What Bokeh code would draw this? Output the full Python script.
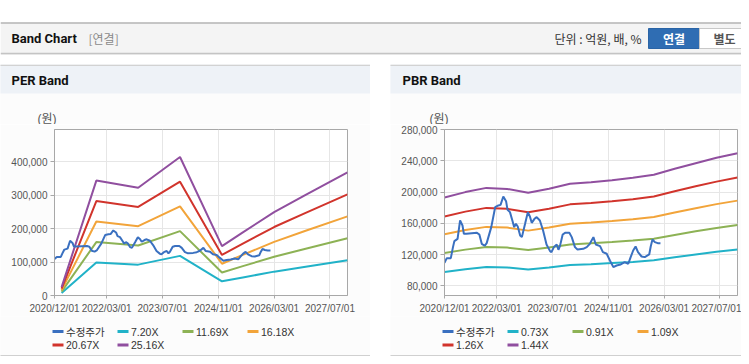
import numpy as np
from bokeh.plotting import figure
from bokeh.layouts import column, row
from bokeh.models import Range1d, FixedTicker, Spacer, NumeralTickFormatter
from bokeh.core.properties import value
from bokeh.embed import file_html
from bokeh.resources import INLINE

# ---------------- data ----------------
price_dates = [
    "2020-12-01", "2020-12-21", "2021-01-25", "2021-02-13", "2021-02-25", "2021-03-25", "2021-04-16",
    "2021-05-07", "2021-05-19", "2021-06-10", "2021-09-10", "2021-10-01", "2021-10-22", "2021-11-16",
    "2021-12-04", "2022-01-13", "2022-02-16", "2022-03-16", "2022-04-04", "2022-04-28", "2022-05-22",
    "2022-06-04", "2022-06-25", "2022-07-16", "2022-08-01", "2022-08-16", "2022-09-01", "2022-09-22",
    "2022-10-07", "2022-11-04", "2022-11-28", "2022-12-16", "2023-01-01", "2023-01-25", "2023-02-13",
    "2023-03-13", "2023-04-10", "2023-05-10", "2023-06-10", "2023-06-22", "2023-07-13", "2023-08-07",
    "2023-08-22", "2023-09-04", "2023-09-28", "2023-10-19", "2023-11-25", "2023-12-16", "2024-01-13",
    "2024-02-04", "2024-03-25", "2024-04-25", "2024-05-22", "2024-06-22", "2024-07-13", "2024-08-19",
    "2024-09-13", "2024-10-16", "2024-11-13", "2024-12-13", "2025-01-10", "2025-02-15", "2025-03-22",
    "2025-04-22", "2025-05-13", "2025-06-04", "2025-06-25", "2025-07-16", "2025-08-16", "2025-09-13",
    "2025-10-22", "2025-11-04", "2025-11-19", "2025-12-10", "2026-01-04", "2026-01-28"]
price_values = [
    109400, 115400, 115400, 129500, 137200, 140100, 163600, 157200, 146500, 146500, 147800, 145700,
    133700, 131200, 134600, 155100, 180600, 182800, 183600, 194300, 188300, 177200, 174300, 163600,
    155100, 159300, 155900, 144400, 142300, 159300, 174300, 168700, 160600, 165700, 167900, 163600,
    150800, 132900, 124400, 123100, 129500, 132900, 126100, 130800, 145700, 147800, 147800, 142300,
    129500, 126500, 127300, 129500, 133700, 142300, 132900, 130800, 123100, 121000, 112400, 103900,
    106000, 107300, 110300, 108200, 116700, 125200, 130300, 123100, 117500, 116700, 120100, 130300,
    139300, 135900, 134600, 134600]

per_dates = ["2021-02-01", "2021-12-01", "2022-12-01", "2023-12-01", "2024-12-01",
             "2025-06-01", "2026-03-01", "2026-12-01", "2027-12-01"]
per_720 = [7200, 98300, 92200, 118400, 42300, 54000, 71300, 86000, 105300]
per_1169 = [11700, 159600, 149600, 192300, 68600, 87700, 115700, 139700, 170900]
per_1618 = [16200, 220900, 207100, 266200, 95000, 121400, 160200, 193400, 236500]
per_2067 = [20700, 282100, 264600, 340000, 121300, 155000, 204600, 247000, 302200]
per_2516 = [25200, 343400, 322000, 413900, 147700, 188700, 249100, 300700, 367800]

pbr_dates = ["2020-12-01", "2021-06-01", "2021-12-01", "2022-06-01", "2022-12-01", "2023-06-01",
             "2023-12-01", "2024-06-01", "2024-12-01", "2025-06-01", "2025-12-01", "2026-06-01",
             "2026-12-01", "2027-06-01", "2027-12-01"]
pbr_073 = [97800, 101300, 104100, 103400, 100900, 103500, 106700, 107700, 109100, 110600, 112600,
           116400, 120100, 123600, 126600]
pbr_091 = [121900, 126300, 129800, 128900, 125800, 129000, 133000, 134300, 136000, 137900, 140300,
           145100, 149700, 154100, 157800]
pbr_109 = [146100, 151300, 155400, 154500, 150600, 154600, 159400, 160900, 162800, 165100, 168100,
           173900, 179300, 184500, 189000]
pbr_126 = [168800, 174900, 179700, 178500, 174100, 178700, 184200, 186000, 188200, 190900, 194300,
           201000, 207300, 213300, 218500]
pbr_144 = [193000, 199900, 205300, 204000, 199000, 204200, 210500, 212500, 215100, 218200, 222000,
           229700, 236900, 243800, 249700]

per_labels = ["수정주가", "7.20X", "11.69X", "16.18X", "20.67X", "25.16X"]
pbr_labels = ["수정주가", "0.73X", "0.91X", "1.09X", "1.26X", "1.44X"]
series_colors = ["#3a70c0", "#21b2c8", "#8db255", "#f2a43a", "#d1342c", "#904f9f"]

x_tick_dates = ["2020-12-01", "2022-03-01", "2023-07-01", "2024-11-01", "2026-03-01", "2027-07-01"]
x_tick_labels = ["2020/12/01", "2022/03/01", "2023/07/01", "2024/11/01", "2026/03/01", "2027/07/01"]
x_start, x_end = "2020-12-01", "2027-12-01"

per_y_ticks = [0, 100000, 200000, 300000, 400000]
per_y_range = (0, 496000)
pbr_y_ticks = [80000, 120000, 160000, 200000, 240000, 280000]
pbr_y_range = (67600, 280000)


def ms(d):
    return np.array(d, dtype="datetime64[ms]").astype("int64")


def ms1(d):
    return int(np.datetime64(d, "ms").astype("int64"))


TICK_FONT = "'Liberation Sans', 'Noto Sans CJK KR', sans-serif"
KR_FONT = "'Noto Sans CJK KR', sans-serif"
PANEL_BG = "#fcfcfc"
W = 741  # visible width


def deco(width, height, x0, x1, y0, y1, bg="white"):
    p = figure(width=width, height=height, output_backend="svg", toolbar_location=None,
               x_range=Range1d(x0, x1), y_range=Range1d(y1, y0),
               x_axis_type=None, y_axis_type=None,
               min_border=0, min_border_left=0, min_border_right=0, min_border_top=0, min_border_bottom=0,
               background_fill_color=bg, border_fill_color=bg, outline_line_color=None)
    p.grid.visible = False
    return p


def txt(p, x, y, s, size="12px", color="#333", font=KR_FONT, bold=False, align="left"):
    p.text(x=[x], y=[y], text=[s], text_font=value(font), text_font_size=size,
           text_font_style="bold" if bold else "normal", text_color=color,
           text_align=align, text_baseline="middle")


# ---------------- header ----------------
hdr = deco(W, 64, 0, W, 0, 64)
hdr.quad(left=0, right=W, top=22, bottom=52.5, fill_color="#f4f4f4", line_color=None)
hdr.segment(x0=0, y0=22.5, x1=W, y1=22.5, line_color="#b4b4b4", line_width=1.5)
hdr.segment(x0=0, y0=52.8, x1=W, y1=52.8, line_color="#c4c4c4", line_width=1.2)
hdr.segment(x0=0, y0=54, x1=W, y1=54, line_color="#e6e6e6", line_width=1.2)
txt(hdr, 11, 37.5, "Band Chart", size="13px", color="#111", font="Roboto", bold=True)
txt(hdr, 88, 38, "[연결]", size="12px", color="#8a8a8a")
txt(hdr, 641, 38, "단위 : 억원, 배, %", size="12px", color="#333", align="right")
hdr.quad(left=648, right=699, top=28, bottom=48, fill_color="#2f6db3", line_color="#2a64a6")
hdr.quad(left=699, right=W + 10, top=28, bottom=48, fill_color="white", line_color="#c8c8c8")
txt(hdr, 673.5, 38, "연결", size="12px", color="white", bold=True, align="center")
txt(hdr, 724, 38, "별도", size="12px", color="#555", bold=True, align="center")


# ---------------- panel tops ----------------
def panel_top(x0, x1, title, title_x, unit_x):
    p = deco(x1 - x0, 60, x0, x1, 64, 124, bg=PANEL_BG)
    p.quad(left=x0 - 10, right=x1 + 10, top=64, bottom=93, fill_color="#eef2f7", line_color=None)
    p.segment(x0=x0 - 10, y0=64.7, x1=x1 + 10, y1=64.7, line_color="#d2d2d2", line_width=1.5)
    txt(p, title_x, 80, title, size="13px", color="#111", font="Roboto", bold=True)
    txt(p, unit_x, 118, "(원)", size="12px", color="#555", font=TICK_FONT)
    return p


ltop = panel_top(0, 370, "PER Band", 11, 37)
rtop = panel_top(390, W, "PBR Band", 402, 429)


# ---------------- charts ----------------
def chart(width, mb_left, mb_right, mb_top, yr, yticks, bands, dates_b):
    p = figure(width=width, height=192, output_backend="svg", toolbar_location=None,
               x_range=Range1d(ms1(x_start), ms1(x_end)), y_range=Range1d(*yr),
               min_border_left=mb_left, min_border_right=mb_right, min_border_top=mb_top,
               min_border_bottom=21, background_fill_color="white", border_fill_color=PANEL_BG,
               outline_line_color="#a8a8a8")
    xt = [int(v) for v in ms(x_tick_dates)]
    p.xaxis.ticker = FixedTicker(ticks=xt)
    p.xaxis.major_label_overrides = {t: lab for t, lab in zip(xt, x_tick_labels)}
    p.yaxis.ticker = FixedTicker(ticks=yticks)
    p.yaxis.formatter = NumeralTickFormatter(format="0,0")
    for ax in (p.xaxis, p.yaxis):
        ax.axis_line_color = "#a8a8a8"
        ax.major_tick_line_color = "#a8a8a8"
        ax.minor_tick_line_color = None
        ax.major_tick_in = 0
        ax.major_label_text_font = TICK_FONT
        ax.major_label_text_font_size = "10px"
        ax.major_label_text_color = "#555"
    p.xaxis.major_tick_out = 3
    p.xaxis.major_label_standoff = 4
    p.yaxis.major_tick_out = 4
    p.yaxis.major_label_standoff = 3
    p.xgrid.grid_line_color = "#e6e6e6"
    p.ygrid.grid_line_color = "#e6e6e6"
    bx = ms(dates_b)
    for vals, col in zip(bands, series_colors[1:]):
        p.line(bx, vals, line_color=col, line_width=2)
    p.line(ms(price_dates), price_values, line_color=series_colors[0], line_width=2)
    return p


lchart = chart(370, 54, 23, 4, per_y_range, per_y_ticks,
               [per_720, per_1169, per_1618, per_2067, per_2516], per_dates)
rchart = chart(W - 390, 54, 4, 5, pbr_y_range, pbr_y_ticks,
               [pbr_073, pbr_091, pbr_109, pbr_126, pbr_144], pbr_dates)


# ---------------- legends ----------------
def legend(x0, x1, lx, labels):
    p = deco(x1 - x0, 40, x0, x1, 316, 356, bg=PANEL_BG)
    p.segment(x0=x0 - 10, y0=355.2, x1=x1 + 10, y1=355.2, line_color="#d0d0d0", line_width=1.6)
    for i, (lab, col) in enumerate(zip(labels, series_colors)):
        r, c = divmod(i, 4)
        sx = lx + 65 * c
        sy = 331 + 13.5 * r
        p.segment(x0=sx, y0=sy, x1=sx + 11, y1=sy, line_color=col, line_width=3)
        txt(p, sx + 13.5, sy, lab, size="10.5px", color="#333", font=TICK_FONT)
    return p


lleg = legend(0, 370, 52, per_labels)
rleg = legend(390, W, 442, pbr_labels)

layout = column(
    hdr,
    row(ltop, Spacer(width=20, height=60), rtop),
    row(lchart, Spacer(width=20, height=192), rchart),
    row(lleg, Spacer(width=20, height=40), rleg),
)

open("out.html", "w").write(file_html(layout, INLINE))
